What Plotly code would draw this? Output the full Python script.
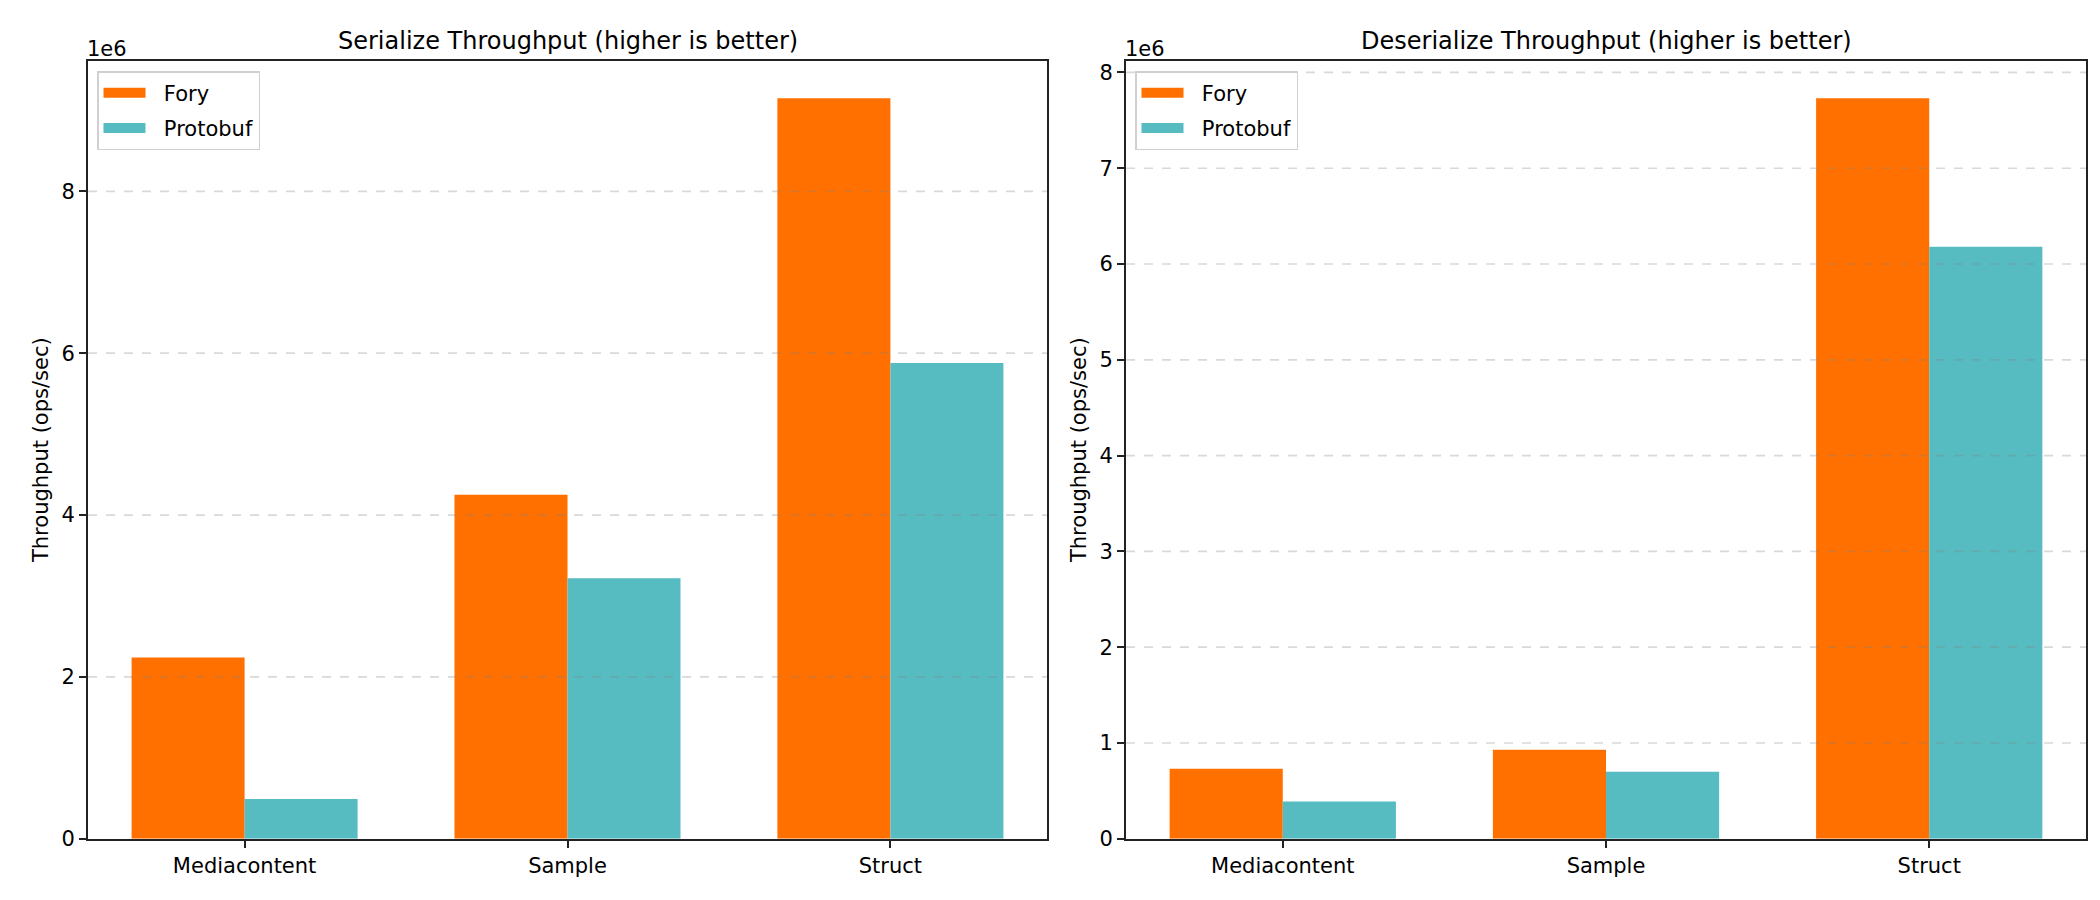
import plotly.graph_objects as go

categories = ["Mediacontent", "Sample", "Struct"]
series_names = ["Fory", "Protobuf"]
ser_fory = [2.24e6, 4.25e6, 9.15e6]
ser_proto = [0.49e6, 3.22e6, 5.88e6]
des_fory = [0.73e6, 0.93e6, 7.73e6]
des_proto = [0.39e6, 0.70e6, 6.18e6]
ser_ticks = [0, 2, 4, 6, 8]
des_ticks = [0, 1, 2, 3, 4, 5, 6, 7, 8]
titles = ["Serialize Throughput (higher is better)", "Deserialize Throughput (higher is better)"]
ylabel = "Throughput (ops/sec)"

colors = ["#ff7000", "#56bcc1"]
FONT = "DejaVu Sans"
W, H = 2100, 900
fig = go.Figure()

panels = [
    ("x", "y", [ser_fory, ser_proto], "legend"),
    ("x2", "y2", [des_fory, des_proto], "legend2"),
]
for xa, ya, vals, leg in panels:
    for name, v, c in zip(series_names, vals, colors):
        fig.add_trace(go.Bar(x=categories, y=v, name=name, marker=dict(color=c, line=dict(width=0)),
                             xaxis=xa, yaxis=ya, showlegend=False, legendgroup=leg + name))
        # legend key drawn as a wide patch (like matplotlib's legend rectangle)
        fig.add_trace(go.Scatter(x=[None], y=[None], mode="lines", name="\u00a0\u00a0" + name,
                                 line=dict(color=c, width=14), xaxis=xa, yaxis=ya,
                                 legend=leg, legendgroup=leg + name, hoverinfo="skip"))

xdom = [[80 / W, 1039 / W], [1118 / W, 2078 / W]]
ydom = [58 / H, 846 / H]

axis_common = dict(showline=True, linecolor="#222", linewidth=1.7, mirror=True,
                   ticks="outside", ticklen=7, tickwidth=1.7, tickcolor="#222",
                   tickfont=dict(family=FONT, size=21, color="black"), zeroline=False)

ymax1 = max(ser_fory + ser_proto) * 1.05
ymax2 = max(des_fory + des_proto) * 1.05

legend_common = dict(xanchor="left", yanchor="top", bgcolor="rgba(255,255,255,0.85)",
                     bordercolor="#d0d0d0", borderwidth=1.5, font=dict(family=FONT, size=21),
                     tracegroupgap=5, itemwidth=42)

fig.update_layout(
    width=W, height=H, paper_bgcolor="white", plot_bgcolor="white",
    margin=dict(l=0, r=0, t=0, b=0),
    barmode="group", bargap=0.3, bargroupgap=0,
    font=dict(family=FONT, color="black"),
    xaxis=dict(domain=xdom[0], anchor="y", range=[-0.485, 2.485], showgrid=False, **axis_common),
    yaxis=dict(domain=ydom, anchor="x", range=[0, ymax1], showgrid=False,
               tickvals=[t * 1e6 for t in ser_ticks], ticktext=[str(t) for t in ser_ticks], **axis_common),
    xaxis2=dict(domain=xdom[1], anchor="y2", range=[-0.485, 2.485], showgrid=False, **axis_common),
    yaxis2=dict(domain=ydom, anchor="x2", range=[0, ymax2], showgrid=False,
                tickvals=[t * 1e6 for t in des_ticks], ticktext=[str(t) for t in des_ticks], **axis_common),
    legend=dict(x=89 / W, y=1 - 64 / H, **legend_common),
    legend2=dict(x=1127 / W, y=1 - 64 / H, **legend_common),
)

# gridlines drawn above bars (matplotlib default axisbelow='line')
shapes = []
for ya, ticks in (("y", ser_ticks), ("y2", des_ticks)):
    xr = "x domain" if ya == "y" else "x2 domain"
    for t in ticks:
        if t == 0:
            continue
        shapes.append(dict(type="line", xref=xr, yref=ya, x0=0, x1=1, y0=t * 1e6, y1=t * 1e6,
                           line=dict(color="rgba(128,128,128,0.3)", width=1.7, dash="dash"), layer="above"))

annotations = []
for i in range(2):
    cx = (xdom[i][0] + xdom[i][1]) / 2
    annotations.append(dict(text=titles[i], x=cx, y=1 - 33 / H, xref="paper", yref="paper",
                            showarrow=False, font=dict(family=FONT, size=24), xanchor="center", yanchor="middle"))
    annotations.append(dict(text="1e6", x=xdom[i][0], y=1 - 42 / H, xref="paper", yref="paper",
                            showarrow=False, font=dict(family=FONT, size=21), xanchor="left", yanchor="middle",
                            xshift=-3))
ylab_x = [33 / W, 1071 / W]
for i in range(2):
    annotations.append(dict(text=ylabel, x=ylab_x[i], y=(ydom[0] + ydom[1]) / 2, xref="paper", yref="paper",
                            showarrow=False, textangle=-90, font=dict(family=FONT, size=21),
                            xanchor="center", yanchor="middle"))
fig.update_layout(shapes=shapes, annotations=annotations)

fig.write_html("out.html")
